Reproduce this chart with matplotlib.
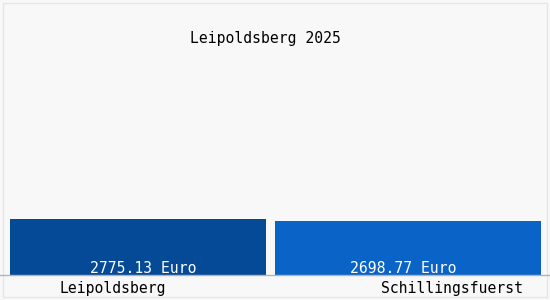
import matplotlib
matplotlib.use("Agg")
import matplotlib.pyplot as plt
from matplotlib.patches import Rectangle

title = "Leipoldsberg 2025"
places = ["Leipoldsberg", "Schillingsfuerst"]
values = [2775.13, 2698.77]
colors = ["#054a96", "#0a63c6"]

W, H = 550, 300
PX = 270  # pixels per category step
fig = plt.figure(figsize=(W / 100, H / 100), dpi=100, facecolor="#f8f8f8")

# plot area: bottom edge = baseline at y=275 px
ax = fig.add_axes([0, 25 / H, 1, 275 / H])
ax.set_facecolor("#f8f8f8")
ax.set_xlim(-138 / PX, (W - 138) / PX)
ymax = 2775.13 * 275 / 56
ax.set_ylim(0, ymax)
ax.axis("off")

font = dict(family="DejaVu Sans Mono", size=10.6)

bars = ax.bar(range(len(values)), values, width=[256 / PX, 266 / PX],
              color=colors)
for b, v, dx in zip(bars, values, [5.5 / PX, -4.5 / PX]):
    ax.text(b.get_x() + b.get_width() / 2 + dx, 2 * ymax / 275,
            f"{v:.2f} Euro", ha="center", va="baseline", color="white",
            **font)

# baseline
fig.add_artist(plt.Line2D([0, 1], [25 / H, 25 / H], color="#b4b4b4", lw=1))

# frame
fig.add_artist(Rectangle((3 / W, 3 / H), (W - 6) / W, (H - 6) / H,
                         fill=False, edgecolor="#e6e6e6", lw=1))

fig.text(265 / W, 1 - 39 / H, title, ha="center", va="center", **font)
fig.text(113 / W, 1 - 288 / H, places[0], ha="center", va="center", **font)
fig.text(523 / W, 1 - 288 / H, places[1], ha="right", va="center", **font)

fig.savefig("out.png", dpi=100, facecolor=fig.get_facecolor())
